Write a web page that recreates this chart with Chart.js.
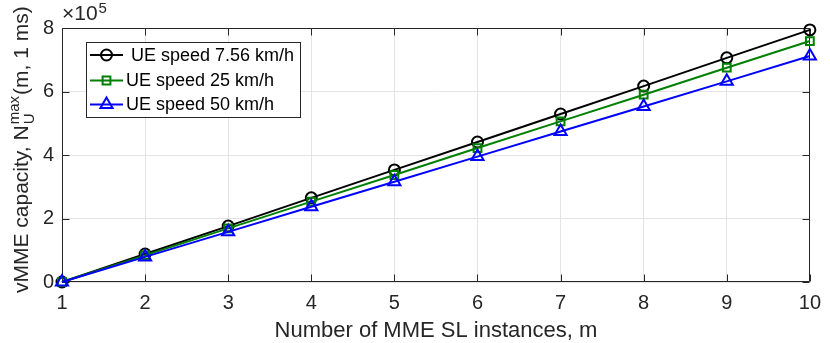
<!DOCTYPE html>
<html>
<head>
<meta charset="utf-8">
<script src="https://cdn.jsdelivr.net/npm/chart.js@4/dist/chart.umd.min.js"></script>
<style>
  html, body { margin: 0; padding: 0; background: #fff; }
  canvas { display: block; }
</style>
</head>
<body>
<canvas id="c" width="830" height="343"></canvas>
<script>
// ---- data ----
const instances = [1, 2, 3, 4, 5, 6, 7, 8, 9, 10];
const speed756 = [0, 88000, 176000, 265000, 353000, 441000, 529000, 617000, 706000, 794000];
const speed25  = [0, 84000, 169000, 253000, 337000, 422000, 506000, 590000, 675000, 759000];
const speed50  = [0, 79000, 158000, 237000, 316000, 395000, 474000, 553000, 632000, 712000];
const seriesLabels = [' UE speed 7.56 km/h', 'UE speed 25 km/h', 'UE speed 50 km/h'];
const yTicks = [0, 200000, 400000, 600000, 800000];
const xTitle = 'Number of MME SL instances, m';

const FONT = "'Liberation Sans', Arial, Helvetica, sans-serif";
const AX = '#262626';

function pts(arr) { return instances.map((m, i) => ({ x: m, y: arr[i] })); }

const datasets = [
  { label: seriesLabels[0], data: pts(speed756), borderColor: '#000000', pointStyle: 'circle', pointRadius: 5.5, order: 3 },
  { label: seriesLabels[1], data: pts(speed25), borderColor: '#008000', pointStyle: 'rect', pointRadius: 5.5, order: 2 },
  { label: seriesLabels[2], data: pts(speed50), borderColor: '#0000ff', pointStyle: 'triangle', pointRadius: 7, order: 1 },
].map(d => Object.assign({
  borderWidth: 2,
  pointBorderWidth: 2,
  pointBorderColor: d.borderColor,
  pointBackgroundColor: 'rgba(0,0,0,0)',
  pointHoverRadius: d.pointRadius,
  tension: 0,
  fill: false,
  clip: false
}, d));

const decor = {
  id: 'decor',
  beforeDatasetsDraw(chart) {
    const { ctx, chartArea: a } = chart;
    const xs = chart.scales.x, ys = chart.scales.y;
    ctx.save();
    ctx.strokeStyle = AX;
    ctx.lineWidth = 1;
    ctx.beginPath();
    const L = Math.round(a.left) + 0.5, R = Math.round(a.right) - 0.5;
    const T = Math.round(a.top) + 0.5, B = Math.round(a.bottom) - 0.5;
    ctx.rect(L, T, R - L, B - T);
    const tl = 7;
    instances.forEach(m => {
      const px = Math.round(xs.getPixelForValue(m)) + 0.5;
      ctx.moveTo(px, B); ctx.lineTo(px, B - tl);
      ctx.moveTo(px, T); ctx.lineTo(px, T + tl);
    });
    yTicks.forEach(v => {
      const py = Math.round(ys.getPixelForValue(v)) + 0.5;
      ctx.moveTo(L, py); ctx.lineTo(L + tl, py);
      ctx.moveTo(R, py); ctx.lineTo(R - tl, py);
    });
    ctx.stroke();
    ctx.restore();
  },
  afterDraw(chart) {
    const { ctx, chartArea: a } = chart;
    ctx.save();
    ctx.fillStyle = AX;
    // x title
    ctx.font = '22px ' + FONT;
    ctx.textAlign = 'center';
    ctx.textBaseline = 'alphabetic';
    ctx.fillText(xTitle, (a.left + a.right) / 2, 337);

    // exponent x10^5
    ctx.textAlign = 'left';
    ctx.font = '21px ' + FONT;
    ctx.fillText('\u00d710', 62, 20);
    const w10 = ctx.measureText('\u00d710').width;
    ctx.font = '15px ' + FONT;
    ctx.fillText('5', 62 + w10 + 1, 13);

    // y title (rotated, with super/subscript)
    ctx.translate(28, 293);
    ctx.rotate(-Math.PI / 2);
    ctx.textAlign = 'left';
    ctx.font = '21px ' + FONT;
    const main1 = 'vMME capacity, N';
    ctx.fillText(main1, 0, 0);
    let xpos = ctx.measureText(main1).width + 1;
    ctx.font = '15px ' + FONT;
    ctx.fillText('max', xpos, -9);
    const wSup = ctx.measureText('max').width;
    ctx.fillText('U', xpos, 6);
    const wSub = ctx.measureText('U').width;
    xpos += Math.max(wSup, wSub) + 1;
    ctx.font = '21px ' + FONT;
    ctx.fillText('(m, 1 ms)', xpos, 0);
    ctx.restore();

    // legend box
    ctx.save();
    const bx = 86.5, by = 42.5, bw = 214, bh = 75;
    ctx.fillStyle = '#ffffff';
    ctx.fillRect(bx, by, bw, bh);
    ctx.strokeStyle = AX;
    ctx.lineWidth = 1;
    ctx.strokeRect(bx, by, bw, bh);
    const rows = [55, 80.5, 104.5];
    chart.data.datasets.forEach((ds, i) => {
      const y = rows[i];
      ctx.strokeStyle = ds.borderColor;
      ctx.lineWidth = 2;
      ctx.beginPath();
      ctx.moveTo(90, y); ctx.lineTo(123, y);
      ctx.stroke();
      ctx.fillStyle = 'rgba(0,0,0,0)';
      ctx.strokeStyle = ds.borderColor;
      ctx.lineWidth = 2;
      Chart.helpers.drawPoint(ctx, {
        pointStyle: ds.pointStyle,
        radius: ds.pointStyle === 'triangle' ? 7 : 5.5,
        borderWidth: 2,
        rotation: 0
      }, 106.5, y);
      ctx.fillStyle = '#000000';
      ctx.font = '18px ' + FONT;
      ctx.textAlign = 'left';
      ctx.textBaseline = 'middle';
      ctx.fillText(ds.label, 126, y + 1);
    });
    ctx.restore();
  }
};

new Chart(document.getElementById('c'), {
  type: 'line',
  data: { datasets },
  options: {
    responsive: false,
    devicePixelRatio: 1,
    animation: false,
    events: [],
    layout: { padding: { top: 28, right: 20, left: 0, bottom: 0 } },
    plugins: { legend: { display: false }, tooltip: { enabled: false }, title: { display: false } },
    scales: {
      x: {
        type: 'linear',
        min: 1, max: 10,
        afterFit(s) { s.height = 61; },
        afterBuildTicks(s) { s.ticks = instances.map(v => ({ value: v })); },
        ticks: { color: AX, font: { family: FONT, size: 20 }, padding: 9, maxRotation: 0, autoSkip: false, callback: v => String(v) },
        grid: { color: '#e4e4e4', drawTicks: false, lineWidth: 1 },
        border: { display: false }
      },
      y: {
        min: 0, max: 800000,
        afterFit(s) { s.width = 62; },
        afterBuildTicks(s) { s.ticks = yTicks.map(v => ({ value: v })); },
        ticks: { color: AX, font: { family: FONT, size: 20 }, padding: 8, callback: v => String(v / 100000) },
        grid: { color: '#e4e4e4', drawTicks: false, lineWidth: 1 },
        border: { display: false }
      }
    }
  },
  plugins: [decor]
});
</script>
</body>
</html>
